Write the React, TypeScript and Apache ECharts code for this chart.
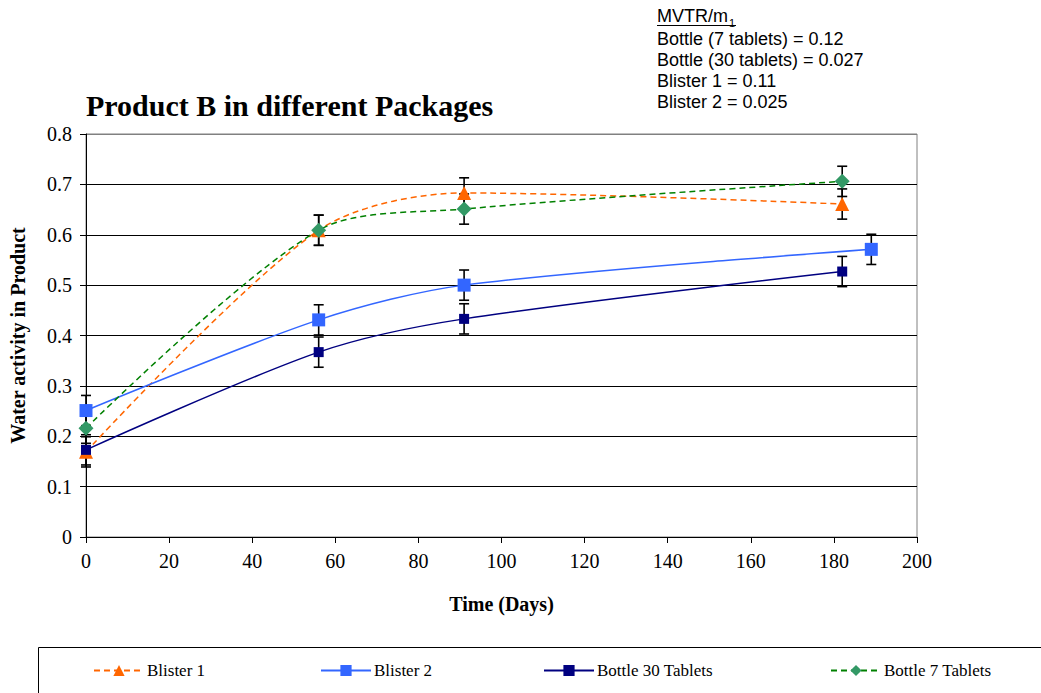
import React, { useEffect, useRef } from "react";
import * as echarts from "echarts";

const blister1X = [0, 56, 91, 182];
const blister1Y = [0.169, 0.609, 0.683, 0.661];
const blister2X = [0, 56, 91, 189];
const blister2Y = [0.251, 0.431, 0.5, 0.571];
const bottle30X = [0, 56, 91, 182];
const bottle30Y = [0.173, 0.367, 0.433, 0.527];
const bottle7X = [0, 56, 91, 182];
const bottle7Y = [0.216, 0.609, 0.651, 0.706];
const errorSize = [0.03, 0.03, 0.03, 0.03];

const seriesNames = ["Blister 1", "Blister 2", "Bottle 30 Tablets", "Bottle 7 Tablets"];
const annotationLines = [
  "Bottle (7 tablets) = 0.12",
  "Bottle (30 tablets) = 0.027",
  "Blister 1 = 0.11",
  "Blister 2 = 0.025",
];

const SERIF = "'Liberation Serif', 'Times New Roman', serif";
const SANS = "'Liberation Sans', Arial, sans-serif";

const pairs = (xs: number[], ys: number[]) => xs.map((x, i) => [x, ys[i]]);
const errPairs = (xs: number[], ys: number[]) => xs.map((x, i) => [x, ys[i], errorSize[i]]);

export default function App() {
  const ref = useRef<HTMLDivElement>(null);
  useEffect(() => {
    if (!ref.current) return;
    const chart = echarts.init(ref.current, undefined, { renderer: "svg" });

    const errRender = (params: any, api: any) => {
      const x = api.value(0);
      const y = api.value(1);
      const e = api.value(2);
      const top = api.coord([x, y + e]);
      const bot = api.coord([x, y - e]);
      const w = 5;
      const style = { stroke: "#000", lineWidth: 1.6 };
      return {
        type: "group",
        children: [
          { type: "line", shape: { x1: top[0], y1: top[1], x2: bot[0], y2: bot[1] }, style },
          { type: "line", shape: { x1: top[0] - w, y1: top[1], x2: top[0] + w, y2: top[1] }, style },
          { type: "line", shape: { x1: bot[0] - w, y1: bot[1], x2: bot[0] + w, y2: bot[1] }, style },
        ],
      };
    };

    const errSeries = (xs: number[], ys: number[]) => ({
      type: "custom",
      renderItem: errRender,
      data: errPairs(xs, ys),
      encode: { x: 0, y: 1 },
      z: 1,
      silent: true,
    });

    const legendPos = [93, 320, 543, 830];
    const smooth = 0.3;

    chart.setOption({
      animation: false,
      backgroundColor: "#fff",
      textStyle: { fontFamily: SERIF },
      grid: {
        left: 86,
        right: 124,
        top: 134,
        bottom: 156,
        show: true,
        borderColor: "#808080",
        borderWidth: 1,
        backgroundColor: "transparent",
      },
      xAxis: {
        type: "value",
        min: 0,
        max: 200,
        interval: 20,
        name: "Time (Days)",
        nameLocation: "middle",
        nameGap: 57,
        nameTextStyle: { fontFamily: SERIF, fontWeight: "bold", fontSize: 20, color: "#000" },
        axisLine: { show: true, lineStyle: { color: "#000", width: 1 } },
        axisTick: { show: true, inside: false, length: 6, lineStyle: { color: "#000" } },
        axisLabel: { fontFamily: SERIF, fontSize: 20, color: "#000", margin: 14 },
        splitLine: { show: false },
      },
      yAxis: {
        type: "value",
        min: 0,
        max: 0.8,
        interval: 0.1,
        name: "Water activity in Product",
        nameLocation: "middle",
        nameGap: 58,
        nameTextStyle: { fontFamily: SERIF, fontWeight: "bold", fontSize: 20, color: "#000" },
        axisLine: { show: true, onZero: false, lineStyle: { color: "#000", width: 1 } },
        axisTick: { show: true, inside: false, length: 6, lineStyle: { color: "#000" } },
        axisLabel: { fontFamily: SERIF, fontSize: 20, color: "#000", margin: 14 },
        splitLine: {
          show: true,
          lineStyle: {
            color: ["#000", "#000", "#000", "#000", "#000", "#000", "#000", "#000", "#808080"],
            width: 1,
          },
        },
      },
      legend: legendPos.map((left, i) => ({
        show: true,
        data: [seriesNames[i]],
        left,
        top: 662,
        itemWidth: 50,
        itemHeight: 14,
        itemGap: 4,
        textStyle: { fontFamily: SERIF, fontSize: 17, color: "#000", padding: [0, 0, 0, -2] },
        padding: 0,
      })),
      graphic: [
        {
          type: "rect",
          shape: { x: 38.5, y: 647.5, width: 1020, height: 80 },
          style: { fill: "none", stroke: "#000", lineWidth: 1 },
          silent: true,
        },
        {
          type: "text",
          x: 86,
          y: 105,
          style: {
            text: "Product B in different Packages",
            font: `bold 30px ${SERIF}`,
            fill: "#000",
            textVerticalAlign: "middle",
          },
        },
        {
          type: "text",
          x: 657,
          y: 16,
          style: { text: "MVTR/m", font: `18px ${SANS}`, fill: "#000", textVerticalAlign: "middle" },
        },
        {
          type: "text",
          x: 729,
          y: 23,
          style: { text: "1", font: `11px ${SANS}`, fill: "#000", textVerticalAlign: "middle" },
        },
        {
          type: "line",
          shape: { x1: 657, y1: 25.5, x2: 736, y2: 25.5 },
          style: { stroke: "#000", lineWidth: 1 },
        },
        ...annotationLines.map((t, i) => ({
          type: "text",
          x: 657,
          y: 39 + i * 21,
          style: { text: t, font: `18px ${SANS}`, fill: "#000", textVerticalAlign: "middle" },
        })),
      ],
      series: [
        errSeries(blister1X, blister1Y),
        errSeries(blister2X, blister2Y),
        errSeries(bottle30X, bottle30Y),
        errSeries(bottle7X, bottle7Y),
        {
          name: seriesNames[0],
          type: "line",
          data: pairs(blister1X, blister1Y),
          smooth,
          z: 3,
          symbol: "triangle",
          symbolSize: 14,
          showAllSymbol: true,
          lineStyle: { color: "#FF6600", width: 1.5, type: [6, 4] },
          itemStyle: { color: "#FF6600", borderWidth: 0 },
        },
        {
          name: seriesNames[1],
          type: "line",
          data: pairs(blister2X, blister2Y),
          smooth,
          z: 3,
          symbol: "rect",
          symbolSize: 13,
          lineStyle: { color: "#3366FF", width: 1.5 },
          itemStyle: { color: "#3366FF", borderWidth: 0 },
        },
        {
          name: seriesNames[2],
          type: "line",
          data: pairs(bottle30X, bottle30Y),
          smooth,
          z: 3,
          symbol: "rect",
          symbolSize: 10,
          lineStyle: { color: "#000080", width: 1.5 },
          itemStyle: { color: "#000080", borderWidth: 0 },
        },
        {
          name: seriesNames[3],
          type: "line",
          data: pairs(bottle7X, bottle7Y),
          smooth,
          z: 3,
          symbol: "diamond",
          symbolSize: 15,
          lineStyle: { color: "#008000", width: 1.5, type: [6, 4] },
          itemStyle: { color: "#339966", borderWidth: 0 },
        },
      ],
    });
    return () => chart.dispose();
  }, []);
  return <div ref={ref} style={{ width: 1041, height: 693, position: "absolute", left: 0, top: 0 }} />;
}
